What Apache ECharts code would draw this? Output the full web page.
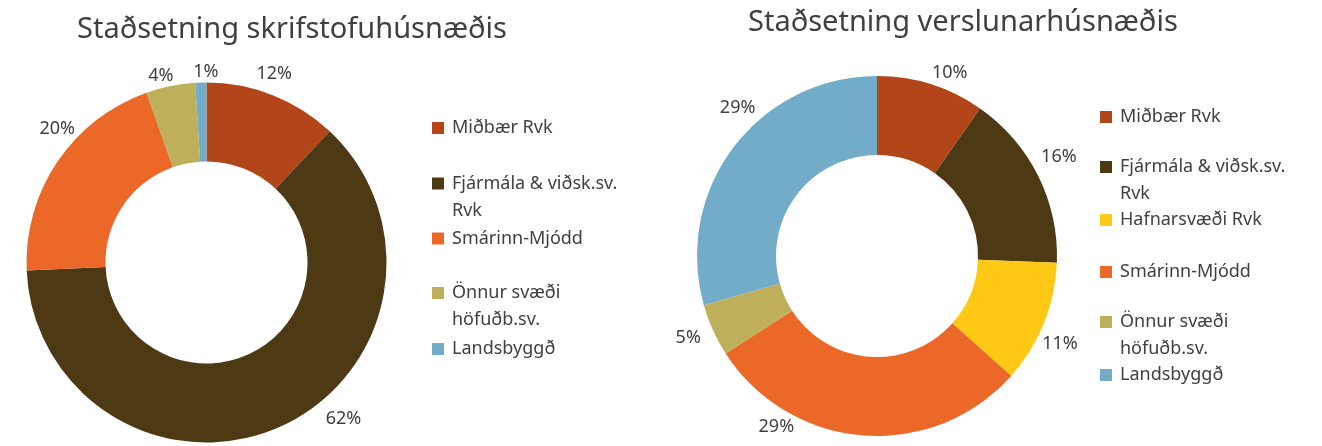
<!DOCTYPE html>
<html>
<head>
<meta charset="utf-8">
<script src="https://cdn.jsdelivr.net/npm/echarts@6/dist/echarts.min.js"></script>
<style>
  html, body { margin: 0; padding: 0; background: #fff; }
  #main { width: 1322px; height: 446px; }
</style>
</head>
<body>
<div id="main"></div>
<script>
// skrifstofuhúsnæði (left donut)
const officeNames = ["Miðbær Rvk", "Fjármála & viðsk.sv. Rvk", "Smárinn-Mjódd", "Önnur svæði höfuðb.sv.", "Landsbyggð"];
const officeValues = [12, 62.3, 20.3, 4.4, 1];

// verslunarhúsnæði (right donut)
const shopNames = ["Miðbær Rvk", "Fjármála & viðsk.sv. Rvk", "Hafnarsvæði Rvk", "Smárinn-Mjódd", "Önnur svæði höfuðb.sv.", "Landsbyggð"];
const shopValues = [9.7, 15.9, 11, 29.3, 4.7, 29.4];

const colors = {
  "Miðbær Rvk": "#B2461A",
  "Fjármála & viðsk.sv. Rvk": "#4D3A14",
  "Hafnarsvæði Rvk": "#FFC814",
  "Smárinn-Mjódd": "#EC6828",
  "Önnur svæði höfuðb.sv.": "#BEB05A",
  "Landsbyggð": "#73ACC8"
};

// two-line legend entries (blank first line keeps the icon next to the first line)
const wrapped = {
  "Fjármála & viðsk.sv. Rvk": "\nFjármála & viðsk.sv.\nRvk",
  "Önnur svæði höfuðb.sv.": "\nÖnnur svæði\nhöfuðb.sv."
};

// excel moves some percent labels away from the slice middle, nudge them the same way
const labelNudge = [
  [[-25, -12], [35, -16], [31, -27], [10, 0], [23, -1]],
  [[-7, -2], [-11, -14], [-16, 17], [-63, -19], [2, 4], [35, -34]]
];

const FONT = "Noto Sans";
const TXT = "#404040";
const LH = 27;

function legendFor(name, x, iconY) {
  const twoLine = !!wrapped[name];
  return {
    data: [name],
    left: x,
    top: iconY - (twoLine ? LH * 1.5 : LH / 2),
    padding: 0,
    orient: "vertical",
    icon: "rect",
    itemWidth: 12,
    itemHeight: 12,
    selectedMode: false,
    formatter: (n) => wrapped[n] || n,
    textStyle: { fontFamily: FONT, fontSize: 18, color: TXT, lineHeight: LH, padding: [0, 0, 0, 3] }
  };
}

const leftIconY = [128, 183.5, 238.5, 293, 349];
const rightIconY = [117, 167, 220, 272, 322, 375];

const legends = [];
officeNames.forEach((n, i) => legends.push(legendFor(n, 432, leftIconY[i])));
shopNames.forEach((n, i) => legends.push(legendFor(n, 1100, rightIconY[i])));

function pieSeries(idx, names, values, center) {
  return {
    type: "pie",
    center: center,
    radius: [101, 180],
    startAngle: 90,
    clockwise: true,
    avoidLabelOverlap: false,
    emphasis: { disabled: true },
    itemStyle: { borderWidth: 0 },
    label: {
      show: true,
      position: "outside",
      formatter: (p) => Math.round(p.percent) + "%",
      fontFamily: FONT,
      fontSize: 18,
      color: TXT
    },
    labelLine: { show: false, length: 10, length2: 0 },
    labelLayout: (p) => {
      const d = labelNudge[idx][p.dataIndex];
      return { dx: d[0], dy: d[1] };
    },
    data: names.map((n, i) => ({ name: n, value: values[i], itemStyle: { color: colors[n] } }))
  };
}

const chart = echarts.init(document.getElementById("main"));
chart.setOption({
  animation: false,
  title: [
    { text: "Staðsetning skrifstofuhúsnæðis", left: 77, top: 12, padding: 0,
      textStyle: { fontFamily: FONT, fontSize: 29, fontWeight: "normal", color: TXT, lineHeight: 36 } },
    { text: "Staðsetning verslunarhúsnæðis", left: 748, top: 5, padding: 0,
      textStyle: { fontFamily: FONT, fontSize: 29, fontWeight: "normal", color: TXT, lineHeight: 36 } }
  ],
  legend: legends,
  series: [
    pieSeries(0, officeNames, officeValues, [206.5, 262.5]),
    pieSeries(1, shopNames, shopValues, [877, 256])
  ]
});
</script>
</body>
</html>
